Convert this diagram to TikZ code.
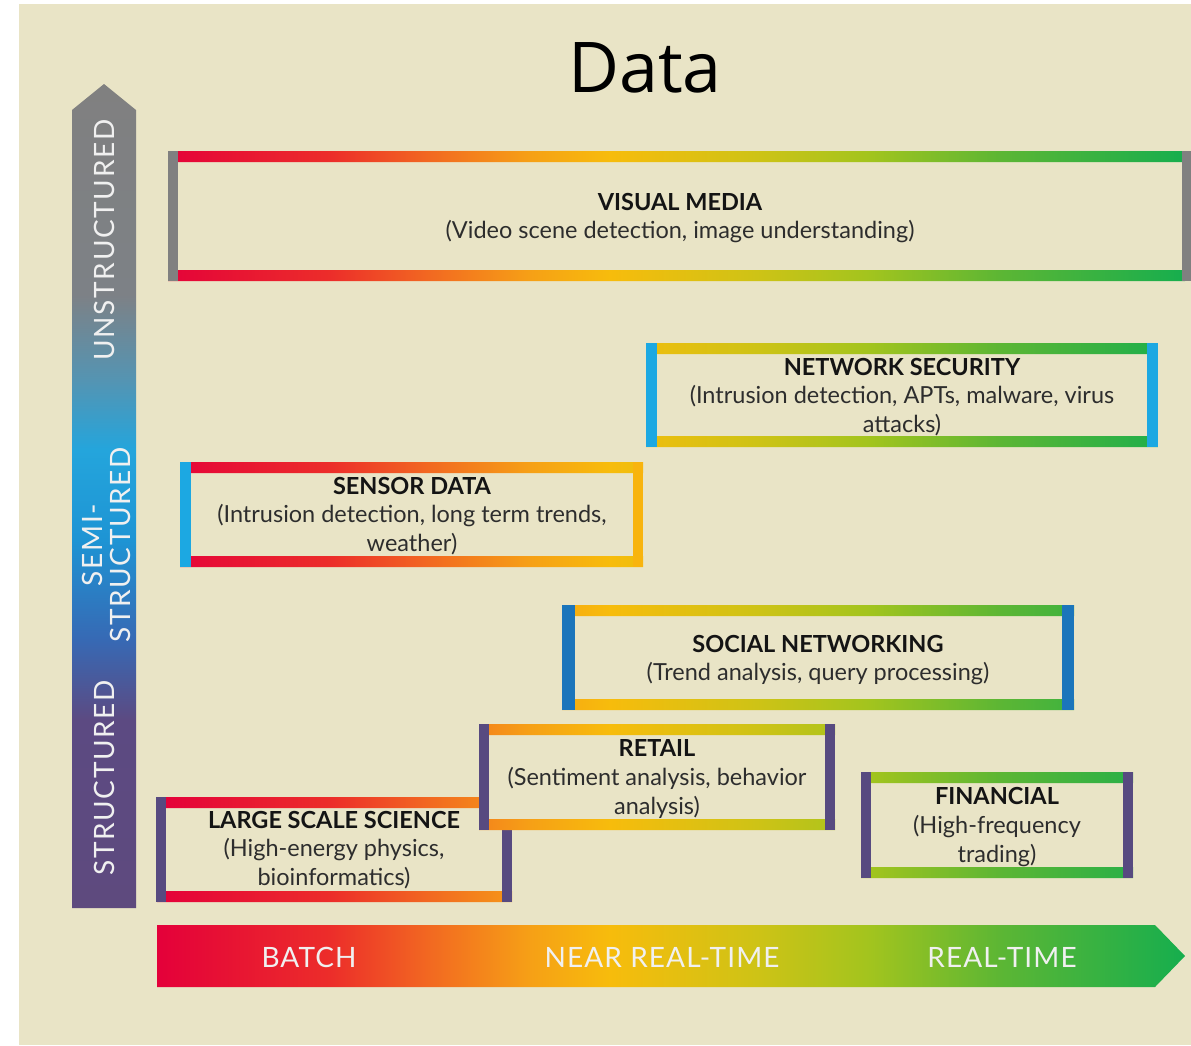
\documentclass[tikz,border=0pt]{standalone}
\usepackage{fontspec}
\setmainfont{Lato}
\newfontfamily\titlefont{Open Sans}
\newfontfamily\axisfont[LetterSpace=6]{Lato}
\newfontfamily\haxisfont[LetterSpace=4]{Lato}
\definecolor{bgc}{RGB}{233,228,198}
\definecolor{sp1}{RGB}{228,0,58}
\definecolor{sp2}{RGB}{236,45,42}
\definecolor{sp3}{RGB}{242,105,33}
\definecolor{sp4}{RGB}{246,160,22}
\definecolor{sp5}{RGB}{247,188,12}
\definecolor{sp6}{RGB}{205,195,22}
\definecolor{sp7}{RGB}{162,196,30}
\definecolor{sp8}{RGB}{92,182,52}
\definecolor{sp9}{RGB}{22,174,78}
\definecolor{va1}{RGB}{94,74,126}
\definecolor{va2}{RGB}{92,74,130}
\definecolor{va3}{RGB}{55,105,180}
\definecolor{va4}{RGB}{30,148,212}
\definecolor{va5}{RGB}{36,165,220}
\definecolor{va6}{RGB}{85,148,178}
\definecolor{va7}{RGB}{125,129,134}
\definecolor{va8}{RGB}{128,128,128}
\definecolor{sidegray}{RGB}{128,128,128}
\definecolor{sidecyan}{RGB}{28,168,226}
\definecolor{sideblue}{RGB}{27,117,187}
\definecolor{sidepurple}{RGB}{87,74,128}
\definecolor{sideyellow}{RGB}{248,180,14}
\definecolor{ttl}{RGB}{20,20,20}
\definecolor{sub}{RGB}{45,45,45}
\pgfdeclarehorizontalshading{spectrum}{100bp}{color(0bp)=(sp1); color(25bp)=(sp1); color(33.41bp)=(sp2); color(38.28bp)=(sp3); color(43.14bp)=(sp4); color(47.03bp)=(sp5); color(54.33bp)=(sp6); color(59.68bp)=(sp7); color(66bp)=(sp8); color(75bp)=(sp9); color(100bp)=(sp9)}
\pgfdeclareverticalshading{vaxis}{100bp}{color(0bp)=(va1); color(25bp)=(va1); color(36.41bp)=(va2); color(41.26bp)=(va3); color(47.33bp)=(va4); color(52.79bp)=(va5); color(57.1bp)=(va6); color(62.2bp)=(va7); color(75bp)=(va8); color(100bp)=(va8)}
\tikzset{
  boxtext/.style={align=center, inner sep=0pt, font=\fontsize{23.5}{28.7}\selectfont, text=sub},
  axislabel/.style={text=white!94!black, font=\axisfont\fontsize{28}{30}\selectfont, inner sep=0pt, align=center},
  haxislabel/.style={axislabel, font=\haxisfont\fontsize{28}{30}\selectfont},
  cover/.style={fill=bgc},
}
\newcommand{\ttlb}[1]{{\bfseries\color{ttl}#1}}
\begin{document}
\begin{tikzpicture}[x=1pt,y=-1pt]
\useasboundingbox (0,0) rectangle (1191,1045);
\fill[white] (0,0) rectangle (1191,1045);
\fill[bgc] (19,4) rectangle (1191,1045);

% title
\node (title) at (645,68) {\titlefont\fontsize{70}{80}\selectfont Data};

% vertical axis arrow
\shade[shading=vaxis] (72,110) -- (104,84) -- (136,110) -- (136,908) -- (72,908) -- cycle;
\node[axislabel, rotate=90] (unstr) at (104,240) {UNSTRUCTURED};
\node[axislabel, rotate=90, font=\axisfont\fontsize{28}{28}\selectfont] (semi) at (106,545) {SEMI-\\STRUCTURED};
\node[axislabel, rotate=90] (str) at (104,778) {STRUCTURED};

% horizontal axis arrow
\shade[shading=spectrum] (157,925) -- (1155,925) -- (1185,956) -- (1155,987) -- (157,987) -- cycle;
\node[haxislabel] (batch) at (309,957) {BATCH};
\node[haxislabel] (nrt) at (662,957) {NEAR REAL-TIME};
\node[haxislabel] (rt) at (1002,957) {REAL-TIME};

% VISUAL MEDIA
\fill[cover] (168,151) rectangle (1191,281);
\begin{scope}
\clip (168,151) rectangle (1191,162) (168,270) rectangle (1191,281);
\shade[shading=spectrum] (157,151) rectangle (1185,281);
\end{scope}
\fill[sidegray] (168,151) rectangle (178,281);
\fill[sidegray] (1182,151) rectangle (1191,281);
\node[boxtext] (vm) at (680,218) {\ttlb{VISUAL MEDIA}\\(Video scene detection, image understanding)};

% NETWORK SECURITY
\fill[cover] (646,343) rectangle (1158,447);
\begin{scope}
\clip (646,343) rectangle (1158,354) (646,436) rectangle (1158,447);
\shade[shading=spectrum] (157,343) rectangle (1185,447);
\end{scope}
\fill[sidecyan] (646,343) rectangle (657,447);
\fill[sidecyan] (1147,343) rectangle (1158,447);
\node[boxtext] (ns) at (902,397) {\ttlb{NETWORK SECURITY}\\(Intrusion detection, APTs, malware, virus\\attacks)};

% SENSOR DATA
\fill[cover] (180,462) rectangle (643,567);
\begin{scope}
\clip (180,462) rectangle (643,473) (180,556) rectangle (643,567);
\shade[shading=spectrum] (157,462) rectangle (1185,567);
\end{scope}
\fill[sidecyan] (180,462) rectangle (191,567);
\fill[sideyellow] (633,462) rectangle (643,567);
\node[boxtext] (sd) at (412,516) {\ttlb{SENSOR DATA}\\(Intrusion detection, long term trends,\\weather)};

% SOCIAL NETWORKING
\fill[cover] (562,605) rectangle (1074,710);
\begin{scope}
\clip (562,605) rectangle (1074,616) (562,699) rectangle (1074,710);
\shade[shading=spectrum] (157,605) rectangle (1185,710);
\end{scope}
\fill[sideblue] (562,605) rectangle (575,710);
\fill[sideblue] (1062,605) rectangle (1074,710);
\node[boxtext] (sn) at (818,660) {\ttlb{SOCIAL NETWORKING}\\(Trend analysis, query processing)};

% LARGE SCALE SCIENCE
\fill[cover] (156,797) rectangle (512,902);
\begin{scope}
\clip (156,797) rectangle (512,808) (156,891) rectangle (512,902);
\shade[shading=spectrum] (157,797) rectangle (1185,902);
\end{scope}
\fill[sidepurple] (156,797) rectangle (166,902);
\fill[sidepurple] (502,797) rectangle (512,902);
\node[boxtext] (ls) at (334,850) {\ttlb{LARGE SCALE SCIENCE}\\(High-energy physics,\\bioinformatics)};

% RETAIL
\fill[cover] (479,724) rectangle (835,830);
\begin{scope}
\clip (479,724) rectangle (835,735) (479,819) rectangle (835,830);
\shade[shading=spectrum] (157,724) rectangle (1185,830);
\end{scope}
\fill[sidepurple] (479,724) rectangle (489,830);
\fill[sidepurple] (825,724) rectangle (835,830);
\node[boxtext] (rt2) at (657,779) {\ttlb{RETAIL}\\(Sentiment analysis, behavior\\analysis)};

% FINANCIAL
\fill[cover] (861,772) rectangle (1133,878);
\begin{scope}
\clip (861,772) rectangle (1133,783) (861,867) rectangle (1133,878);
\shade[shading=spectrum] (157,772) rectangle (1185,878);
\end{scope}
\fill[sidepurple] (861,772) rectangle (871,878);
\fill[sidepurple] (1123,772) rectangle (1133,878);
\node[boxtext] (fn) at (997,827) {\ttlb{FINANCIAL}\\(High-frequency\\trading)};
\end{tikzpicture}
\end{document}
